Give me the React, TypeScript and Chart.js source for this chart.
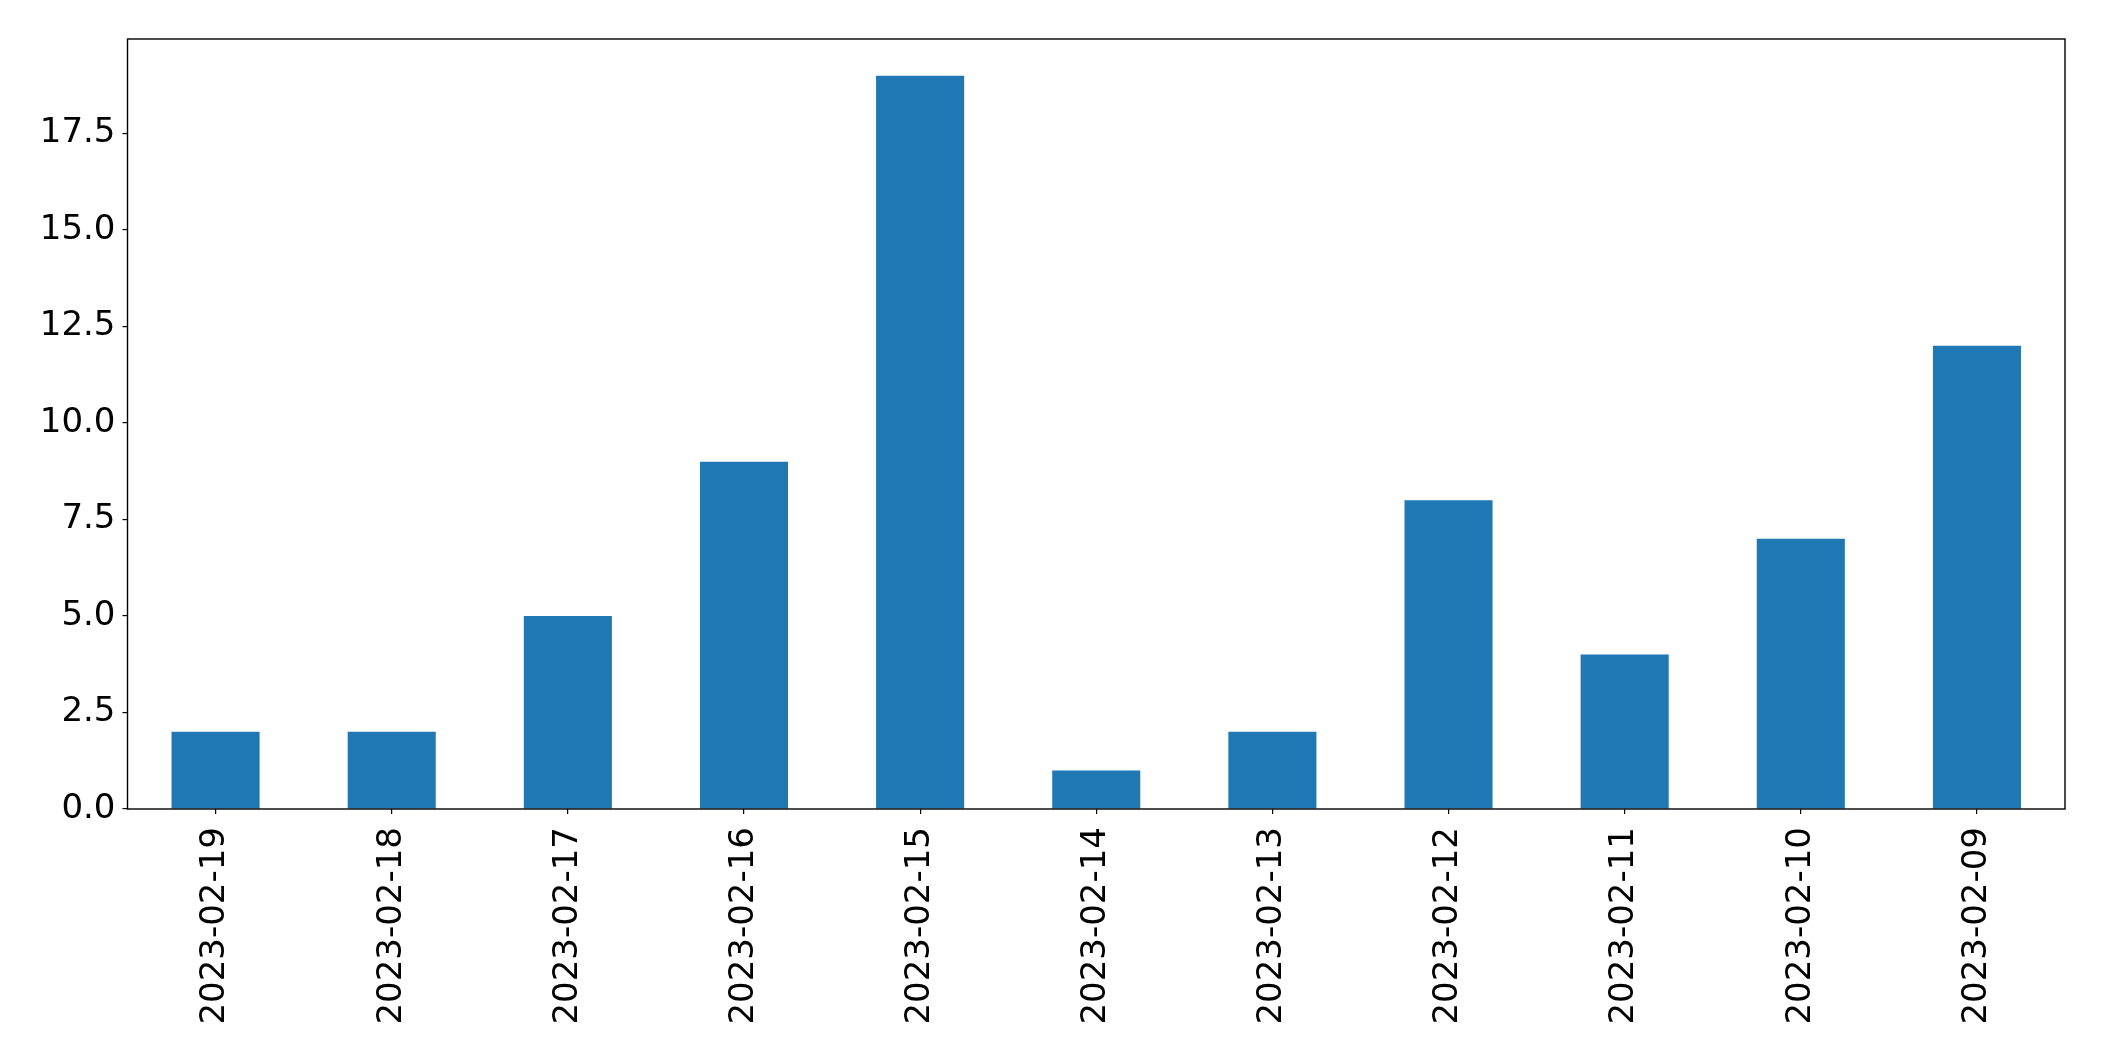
import React, { useEffect, useRef } from "react";
import { Chart, registerables } from "chart.js";

Chart.register(...registerables);

const categories = [
  "2023-02-19", "2023-02-18", "2023-02-17", "2023-02-16", "2023-02-15",
  "2023-02-14", "2023-02-13", "2023-02-12", "2023-02-11", "2023-02-10", "2023-02-09",
];
const values = [2, 2, 5, 9, 19, 1, 2, 8, 4, 7, 12];
const yTicks = [0, 2.5, 5, 7.5, 10, 12.5, 15, 17.5];
const yMax = 19.95;

const W = 2104;
const H = 1061;

const framePlugin = {
  id: "frame",
  afterDraw(chart: any) {
    const { ctx, chartArea } = chart;
    ctx.save();
    ctx.strokeStyle = "#000";
    ctx.lineWidth = 1.4;
    ctx.strokeRect(chartArea.left, chartArea.top, chartArea.right - chartArea.left, chartArea.bottom - chartArea.top);
    ctx.restore();
  },
};

export default function App() {
  const ref = useRef<HTMLCanvasElement>(null);
  useEffect(() => {
    if (!ref.current) return;
    const chart = new Chart(ref.current, {
      type: "bar",
      data: {
        labels: categories,
        datasets: [
          {
            data: values,
            backgroundColor: "#1f77b4",
            categoryPercentage: 1,
            barPercentage: 0.5,
          },
        ],
      },
      options: {
        animation: false,
        responsive: false,
        layout: { padding: { top: 39, right: 39, left: 0, bottom: 0 } },
        plugins: { legend: { display: false }, tooltip: { enabled: false } },
        scales: {
          x: {
            offset: true,
            grid: { display: true, drawOnChartArea: false, drawTicks: true, tickLength: 5, color: "#000", offset: false, lineWidth: 1.2 },
            border: { display: false },
            ticks: {
              minRotation: 90,
              maxRotation: 90,
              autoSkip: false,
              padding: 13,
              color: "#000",
              font: { family: "DejaVu Sans", size: 34 },
            },
            afterFit(scale: any) {
              scale.height = H - 809;
            },
          },
          y: {
            min: 0,
            max: yMax,
            grid: { display: true, drawOnChartArea: false, drawTicks: true, tickLength: 5, color: "#000", lineWidth: 1.2 },
            border: { display: false },
            afterBuildTicks(scale: any) {
              scale.ticks = yTicks.map((v) => ({ value: v }));
            },
            ticks: {
              padding: 7,
              color: "#000",
              font: { family: "DejaVu Sans", size: 34 },
              callback: (v: any) => Number(v).toFixed(1),
            },
            afterFit(scale: any) {
              scale.width = 127.5;
            },
          },
        },
      },
      plugins: [framePlugin],
    });
    return () => chart.destroy();
  }, []);
  return (
    <div style={{ position: "absolute", left: 0, top: 0, width: W, height: H, background: "#fff" }}>
      <canvas ref={ref} width={W} height={H} style={{ display: "block" }} />
    </div>
  );
}
